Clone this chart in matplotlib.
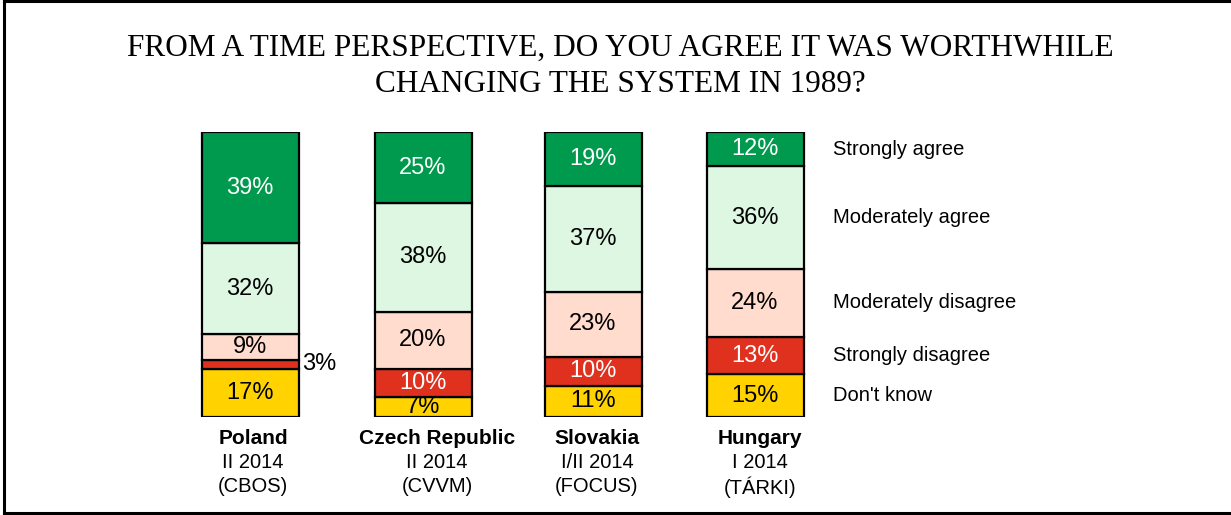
import matplotlib.pyplot as plt
from matplotlib.lines import Line2D

# Data (percent, bottom -> top)
countries = ["Poland", "Czech Republic", "Slovakia", "Hungary"]
periods = ["II 2014", "II 2014", "I/II 2014", "I 2014"]
sources = ["(CBOS)", "(CVVM)", "(FOCUS)", "(TÁRKI)"]
categories = ["Don't know", "Strongly disagree", "Moderately disagree",
              "Moderately agree", "Strongly agree"]
dont_know = [17, 7, 11, 15]
strongly_disagree = [3, 10, 10, 13]
moderately_disagree = [9, 20, 23, 24]
moderately_agree = [32, 38, 37, 36]
strongly_agree = [39, 25, 19, 12]

series = [dont_know, strongly_disagree, moderately_disagree,
          moderately_agree, strongly_agree]
colors = ["#FFD200", "#E0301E", "#FFDCCD", "#DDF7E2", "#009A4E"]
text_colors = ["black", "white", "black", "black", "white"]

# Layout (pixels)
W, H = 1231, 515
x_pos = [250, 423, 593, 755]
label_x = [253, 437, 597, 760]
bar_w = 97

plt.rcParams["font.family"] = ["Liberation Sans", "DejaVu Sans"]
fig = plt.figure(figsize=(W / 100, H / 100), dpi=100)
ax = fig.add_axes([0, (H - 417) / H, 1, 285 / H])
ax.set_xlim(0, W)
ax.set_ylim(0, 100)
ax.axis("off")

bottoms = [0] * len(countries)
for vals, col, tcol in zip(series, colors, text_colors):
    ax.bar(x_pos, vals, width=bar_w, bottom=bottoms, color=col,
           edgecolor="black", linewidth=1.6)
    for x, v, b in zip(x_pos, vals, bottoms):
        if v < 5:
            ax.text(x + bar_w / 2 + 4, b + v / 2, f"{v}%", ha="left",
                    va="center", fontsize=17, color="black", clip_on=False)
        else:
            ax.text(x, b + v / 2, f"{v}%", ha="center", va="center",
                    fontsize=17, color=tcol, clip_on=False)
    bottoms = [b + v for b, v in zip(bottoms, vals)]

# legend-style labels next to the last bar
b = 0
for cat, vals in zip(categories, series):
    v = vals[-1]
    ax.text(833, b + v / 2, cat, ha="left", va="center", fontsize=14.5,
            clip_on=False)
    b += v

# country labels
for x, c, p, s in zip(label_x, countries, periods, sources):
    fig.text(x / W, 1 - 438 / H, c, ha="center", va="center",
             fontsize=15, fontweight="bold")
    fig.text(x / W, 1 - 463 / H, p, ha="center", va="center", fontsize=14.5)
    fig.text(x / W, 1 - 487 / H, s, ha="center", va="center", fontsize=14.5)

# title
fig.text(620 / W, 1 - 48 / H,
         "FROM A TIME PERSPECTIVE, DO YOU AGREE IT WAS WORTHWHILE",
         ha="center", va="center", fontsize=22.5, family="Liberation Serif")
fig.text(620 / W, 1 - 84 / H, "CHANGING THE SYSTEM IN 1989?",
         ha="center", va="center", fontsize=22.5, family="Liberation Serif")

# frame (top, left, bottom)
for xs, ys in [([4, W], [H - 1, H - 1]), ([4, 4], [H - 1, 2]),
               ([4, W], [2, 2])]:
    fig.add_artist(Line2D([x / W for x in xs], [y / H for y in ys],
                          transform=fig.transFigure, color="black",
                          linewidth=2.2))

fig.savefig("out.png", dpi=100)
